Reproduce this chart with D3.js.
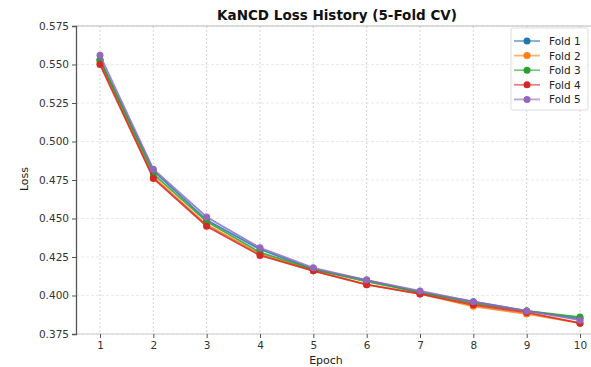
<!DOCTYPE html>
<html><head><meta charset="utf-8">
<script src="https://cdn.jsdelivr.net/npm/d3@7"></script>
<style>body{margin:0;background:#fff}svg{display:block}text{font-family:"DejaVu Sans",sans-serif}</style>
</head><body>
<svg id="c" width="591" height="367"></svg>
<script>
const epochs = [1,2,3,4,5,6,7,8,9,10];
const fold1 = [0.553,0.481,0.449,0.430,0.417,0.410,0.402,0.396,0.390,0.385];
const fold2 = [0.551,0.477,0.446,0.427,0.416,0.407,0.401,0.393,0.388,0.382];
const fold3 = [0.553,0.479,0.448,0.428,0.417,0.409,0.402,0.395,0.390,0.386];
const fold4 = [0.550,0.476,0.445,0.426,0.416,0.407,0.401,0.394,0.389,0.382];
const fold5 = [0.556,0.482,0.451,0.431,0.418,0.410,0.403,0.396,0.390,0.384];
const foldNames = ["Fold 1","Fold 2","Fold 3","Fold 4","Fold 5"];
const colors = ["#1f77b4","#ff7f0e","#2ca02c","#d62728","#9467bd"];
const yTicks = [0.375,0.400,0.425,0.450,0.475,0.500,0.525,0.550,0.575];
const series = [fold1,fold2,fold3,fold4,fold5];

const svg = d3.select("#c");
const L=76, R=604, T=26, B=334;
const x = d3.scaleLinear().domain([0.55,10.45]).range([L,R]);
const y = d3.scaleLinear().domain([0.375,0.575]).range([B,T]);

// grid
svg.append("g").selectAll("line").data(yTicks).join("line")
  .attr("x1",L).attr("x2",R).attr("y1",d=>y(d)).attr("y2",d=>y(d))
  .attr("stroke","#e3e3e3").attr("stroke-width",0.8).attr("stroke-dasharray","3,2");
svg.append("g").selectAll("line").data(epochs).join("line")
  .attr("y1",T).attr("y2",B).attr("x1",d=>x(d)).attr("x2",d=>x(d))
  .attr("stroke","#c8c8c8").attr("stroke-width",0.8).attr("stroke-dasharray","2,2");

// spines
svg.append("line").attr("x1",L).attr("x2",R).attr("y1",T).attr("y2",T).attr("stroke","#bbb").attr("stroke-width",1);
svg.append("line").attr("x1",L).attr("x2",R).attr("y1",B).attr("y2",B).attr("stroke","#ccc").attr("stroke-width",1);

// axes
const yAxis = svg.append("g").attr("transform",`translate(${L},0)`)
  .call(d3.axisLeft(y).tickValues(yTicks).tickFormat(d3.format(".3f")).tickSize(4).tickPadding(3));
const xAxis = svg.append("g").attr("transform",`translate(0,${B})`)
  .call(d3.axisBottom(x).tickValues(epochs).tickFormat(d3.format("d")).tickSize(4).tickPadding(4));
[yAxis,xAxis].forEach(g=>{
  g.selectAll("text").attr("font-size",10.5).attr("fill","#333").style("font-family","'DejaVu Sans',sans-serif");
  g.selectAll(".tick line").attr("stroke","#555");
});
xAxis.select(".domain").remove();
yAxis.select(".domain").attr("stroke","#555").attr("stroke-width",1.3);

// lines
const line = d3.line().x((d,i)=>x(epochs[i])).y(d=>y(d));
series.forEach((s,k)=>{
  const g = svg.append("g");
  g.append("path").datum(s).attr("d",line).attr("fill","none").attr("stroke",colors[k]).attr("stroke-width",1.8).attr("stroke-opacity",0.85);
  g.selectAll("circle").data(s).join("circle")
    .attr("cx",(d,i)=>x(epochs[i])).attr("cy",d=>y(d)).attr("r",3.5).attr("fill",colors[k]);
});

// title & labels
svg.append("text").attr("x",337).attr("y",20).attr("text-anchor","middle")
  .attr("font-size",13.5).attr("font-weight","bold").attr("fill","#111").text("KaNCD Loss History (5-Fold CV)");
svg.append("text").attr("transform","translate(28,179) rotate(-90)").attr("text-anchor","middle")
  .attr("font-size",11).attr("fill","#222").text("Loss");
svg.append("text").attr("x",326).attr("y",364).attr("text-anchor","middle")
  .attr("font-size",11).attr("fill","#222").text("Epoch");

// legend
const lg = svg.append("g");
lg.append("rect").attr("x",511).attr("y",28).attr("width",77).attr("height",82).attr("rx",2)
  .attr("fill","#fff").attr("fill-opacity",0.85).attr("stroke","#ddd");
foldNames.forEach((n,k)=>{
  const yy = 41 + k*14.6;
  lg.append("line").attr("x1",514).attr("x2",540).attr("y1",yy).attr("y2",yy).attr("stroke",colors[k]).attr("stroke-width",1.8).attr("stroke-opacity",0.6);
  lg.append("circle").attr("cx",527).attr("cy",yy).attr("r",3.5).attr("fill",colors[k]);
  lg.append("text").attr("x",549).attr("y",yy+4).attr("font-size",10.5).attr("fill","#222").text(n);
});
</script>
</body></html>
